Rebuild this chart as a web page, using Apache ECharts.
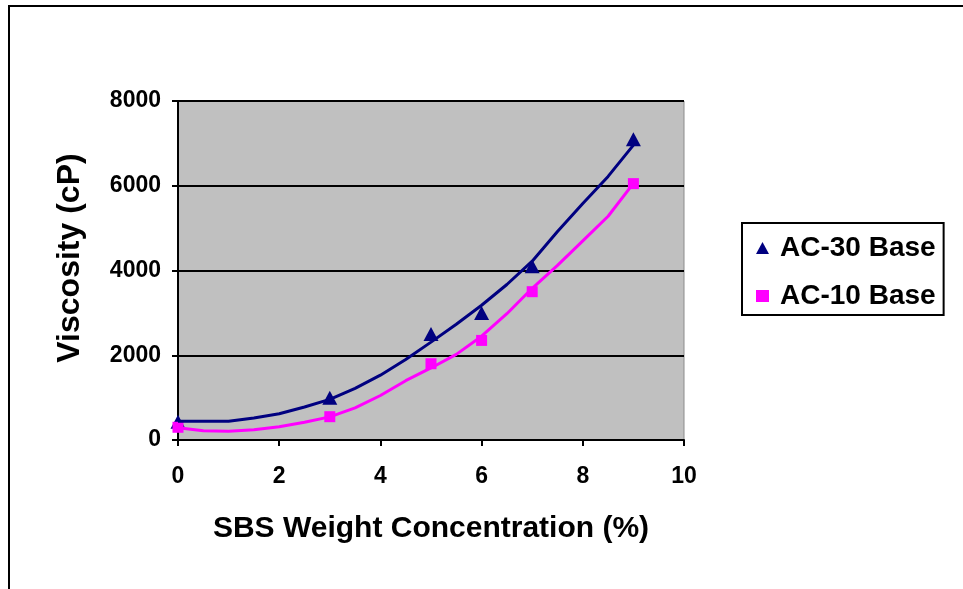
<!DOCTYPE html>
<html>
<head>
<meta charset="utf-8">
<script src="https://cdn.jsdelivr.net/npm/echarts@6/dist/echarts.min.js"></script>
<style>
html,body{margin:0;padding:0;background:#fff;}
#chart{width:963px;height:589px;}
</style>
</head>
<body>
<div id="chart"></div>
<script>
// Measured data points
const concentration = [0, 3, 5, 6, 7, 9];
const ac30 = [430, 1000, 2500, 3000, 4100, 7100];
const ac10 = [300, 550, 1800, 2350, 3500, 6050];

// Trendline values
const trendX = [0, 0.5, 1, 1.5, 2, 2.5, 3, 3.5, 4, 4.5, 5, 5.5, 6, 6.5, 7, 7.5, 8, 8.5, 9];
const ac30Trend = [440, 440, 445, 520, 620, 780, 960, 1220, 1530, 1900, 2310, 2730, 3180, 3670, 4220, 4920, 5580, 6220, 6960];
const ac10Trend = [290, 220, 205, 240, 315, 420, 545, 760, 1050, 1400, 1700, 2020, 2450, 2980, 3580, 4120, 4700, 5280, 6057];

// Axis setup
const xMin = 0, xMax = 10, xStep = 2;
const yMin = 0, yMax = 8000, yStep = 2000;

const seriesNames = ['AC-30 Base', 'AC-10 Base'];
const xTitle = 'SBS Weight Concentration (%)';
const yTitle = 'Viscosity (cP)';

const FONT = '"Liberation Sans", Arial, sans-serif';
const pair = (xs, ys) => xs.map((x, i) => [x, ys[i]]);

const chart = echarts.init(document.getElementById('chart'), null, {renderer: 'canvas'});
chart.setOption({
  animation: false,
  backgroundColor: '#ffffff',
  textStyle: {fontFamily: FONT},
  grid: {
    left: 178, right: 279, top: 101, bottom: 149,
    show: true, backgroundColor: '#C0C0C0', borderColor: '#8c8c8c', borderWidth: 1
  },
  xAxis: {
    type: 'value', min: xMin, max: xMax, interval: xStep,
    axisLine: {show: true, onZero: false, lineStyle: {color: '#000', width: 2}},
    axisTick: {show: true, inside: false, length: 6, lineStyle: {color: '#000', width: 2}},
    splitLine: {show: false},
    axisLabel: {color: '#000', fontWeight: 'bold', fontSize: 23, fontFamily: FONT, margin: 25,
                formatter: v => String(v)},
    name: xTitle, nameLocation: 'middle', nameGap: 74,
    nameTextStyle: {color: '#000', fontWeight: 'bold', fontSize: 30, fontFamily: FONT}
  },
  yAxis: {
    type: 'value', min: yMin, max: yMax, interval: yStep,
    axisLine: {show: true, onZero: false, lineStyle: {color: '#000', width: 2}},
    axisTick: {show: true, inside: false, length: 6, lineStyle: {color: '#000', width: 2}},
    splitLine: {show: true, lineStyle: {color: '#000', width: 2}},
    axisLabel: {color: '#000', fontWeight: 'bold', fontSize: 23, fontFamily: FONT, margin: 17,
                formatter: v => String(v)}
  },
  graphic: [
    {type: 'rect', shape: {x: 9, y: 6, width: 1200, height: 1000},
     style: {fill: 'none', stroke: '#000', lineWidth: 2}, silent: true, z: 100},
    {type: 'text', x: 70, y: 258, rotation: Math.PI / 2,
     style: {text: yTitle, fill: '#000', font: 'bold 32px ' + FONT, align: 'center', verticalAlign: 'middle'}}
  ],
  legend: {
    data: seriesNames,
    orient: 'vertical',
    left: 742, top: 223,
    padding: [10, 8, 4, 14],
    itemGap: 18,
    itemWidth: 13, itemHeight: 12,
    borderColor: '#000', borderWidth: 2,
    backgroundColor: '#fff',
    textStyle: {color: '#000', fontWeight: 'bold', fontSize: 28, fontFamily: FONT, lineHeight: 30, padding: [0, 0, 0, 6]}
  },
  series: [
    {
      name: 'AC-30 trend', type: 'line', data: pair(trendX, ac30Trend),
      showSymbol: false, symbol: 'none', smooth: false,
      lineStyle: {color: '#000080', width: 3}, z: 3
    },
    {
      name: 'AC-10 trend', type: 'line', data: pair(trendX, ac10Trend),
      showSymbol: false, symbol: 'none', smooth: false,
      lineStyle: {color: '#FF00FF', width: 3}, z: 3
    },
    {
      name: seriesNames[0], type: 'scatter', data: pair(concentration, ac30),
      symbol: 'triangle', symbolSize: [15, 14],
      itemStyle: {color: '#000080', opacity: 1}, z: 2
    },
    {
      name: seriesNames[1], type: 'scatter', data: pair(concentration, ac10),
      symbol: 'rect', symbolSize: 11,
      itemStyle: {color: '#FF00FF', opacity: 1}, z: 2
    }
  ]
});
</script>
</body>
</html>
